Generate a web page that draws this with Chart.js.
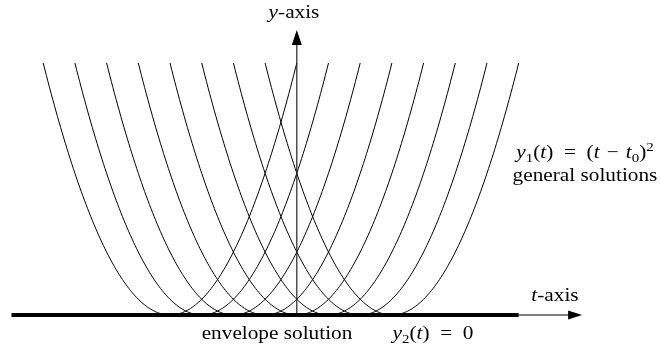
<!DOCTYPE html>
<html>
<head>
<meta charset="utf-8">
<title>General and envelope solutions</title>
<script src="https://cdn.jsdelivr.net/npm/chart.js@4/dist/chart.umd.min.js"></script>
<style>
  html, body { margin: 0; padding: 0; background: #fff; }
  #wrap { width: 661px; height: 352px; }
</style>
</head>
<body>
<div id="wrap"><canvas id="solChart" width="661" height="352"></canvas></div>
<script>
// shifts t0 of the general solutions y1(t) = (t - t0)^2
var shifts = [-4, -3, -2, -1, 0, 1, 2, 3];
// each parabola is drawn over t0 - halfSpan .. t0 + halfSpan
var halfSpan = 4;
// envelope y2(t) = 0 drawn over this t interval
var envelopeT = [-9, 7];
// t-axis arrow runs on to tAxisEnd, y-axis arrow up to yAxisEnd
var tAxisEnd = 9;
var yAxisEnd = 18.1;

var FONT = '"Liberation Serif", "DejaVu Serif", serif';
var FONT_PX = 18.5;
var STRETCH = 1.15;   // widen the Times-like glyphs a little

function parabola(t0) {
    var pts = [];
    for (var i = -halfSpan * 20; i <= halfSpan * 20; i++) {
        var t = t0 + i / 20;
        pts.push({ x: t, y: (t - t0) * (t - t0) });
    }
    return pts;
}

var datasets = shifts.map(function(t0) {
    return {
        data: parabola(t0),
        borderColor: '#000',
        borderWidth: 1,
        pointRadius: 0,
        showLine: true,
        fill: false,
        order: 3
    };
});

// y-axis shaft
datasets.push({
    data: [{ x: 0, y: 0 }, { x: 0, y: yAxisEnd - 0.9 }],
    borderColor: '#222',
    borderWidth: 1.2,
    pointRadius: 0,
    showLine: true,
    order: 2
});

// thin tail of the t-axis
datasets.push({
    data: [{ x: envelopeT[1], y: 0 }, { x: tAxisEnd - 0.35, y: 0 }],
    borderColor: '#555',
    borderWidth: 1.4,
    pointRadius: 0,
    showLine: true,
    order: 1
});

// envelope solution, thick
datasets.push({
    data: [{ x: envelopeT[0], y: 0 }, { x: envelopeT[1], y: 0 }],
    borderColor: '#000',
    borderWidth: 4,
    borderCapStyle: 'butt',
    pointRadius: 0,
    showLine: true,
    order: 0
});

function fontFor(style) {
    if (style === 'i') return 'italic ' + FONT_PX + 'px ' + FONT;
    if (style === 'sub' || style === 'sup') return Math.round(FONT_PX * 0.7) + 'px ' + FONT;
    return FONT_PX + 'px ' + FONT;
}

// runs: [text, style] where style is '', 'i', 'sub', 'sup'
function runWidth(ctx, runs) {
    var w = 0;
    runs.forEach(function(r) {
        ctx.font = fontFor(r[1]);
        w += ctx.measureText(r[0]).width;
    });
    return w;
}

function drawRuns(ctx, runs, cx, baseline) {
    var w = runWidth(ctx, runs);
    ctx.save();
    ctx.translate(cx - w * STRETCH / 2, baseline);
    ctx.scale(STRETCH, 1);
    var x = 0;
    runs.forEach(function(r) {
        ctx.font = fontFor(r[1]);
        var dy = 0;
        if (r[1] === 'sub') dy = 4;
        if (r[1] === 'sup') dy = -7;
        ctx.fillText(r[0], x, dy);
        x += ctx.measureText(r[0]).width;
    });
    ctx.restore();
}

var annotations = {
    id: 'annotations',
    afterDatasetsDraw: function(chart) {
        var ctx = chart.ctx;
        var xs = chart.scales.x, ys = chart.scales.y;
        var ox = xs.getPixelForValue(0), oy = ys.getPixelForValue(0);
        ctx.save();

        // arrowheads
        ctx.fillStyle = '#000';
        var tipX = xs.getPixelForValue(tAxisEnd);
        ctx.beginPath();
        ctx.moveTo(tipX, oy);
        ctx.lineTo(tipX - 14, oy - 4.5);
        ctx.lineTo(tipX - 14, oy + 4.5);
        ctx.closePath();
        ctx.fill();

        var tipY = ys.getPixelForValue(yAxisEnd);
        ctx.beginPath();
        ctx.moveTo(ox, tipY);
        ctx.lineTo(ox - 5, tipY + 15);
        ctx.lineTo(ox + 5, tipY + 15);
        ctx.closePath();
        ctx.fill();

        // labels
        var en = '\u2002', thin = '\u2004';
        ctx.fillStyle = '#000';
        ctx.textBaseline = 'alphabetic';
        drawRuns(ctx, [['y', 'i'], ['-axis', '']], 294, 18);
        drawRuns(ctx, [['t', 'i'], ['-axis', '']], 555, 301);
        drawRuns(ctx, [['y', 'i'], ['1', 'sub'], ['(', ''], ['t', 'i'], [')' + en + '=' + en + '(', ''],
                       ['t', 'i'], [thin + '\u2212' + thin, ''], ['t', 'i'], ['0', 'sub'], [')', ''], ['2', 'sup']], 585, 158);
        drawRuns(ctx, [['general solutions', '']], 585, 181);
        drawRuns(ctx, [['envelope solution', '']], 277, 339);
        drawRuns(ctx, [['y', 'i'], ['2', 'sub'], ['(', ''], ['t', 'i'], [')' + en + '=' + en + '0', '']], 433, 339);
        ctx.restore();
    }
};

new Chart(document.getElementById('solChart').getContext('2d'), {
    type: 'scatter',
    data: { datasets: datasets },
    options: {
        responsive: false,
        animation: false,
        layout: { padding: 0 },
        plugins: { legend: { display: false }, tooltip: { enabled: false } },
        scales: {
            x: { type: 'linear', display: false, min: -9.363, max: 11.489 },
            y: { type: 'linear', display: false, min: -2.349, max: 20.0 }
        }
    },
    plugins: [annotations]
});
</script>
</body>
</html>
